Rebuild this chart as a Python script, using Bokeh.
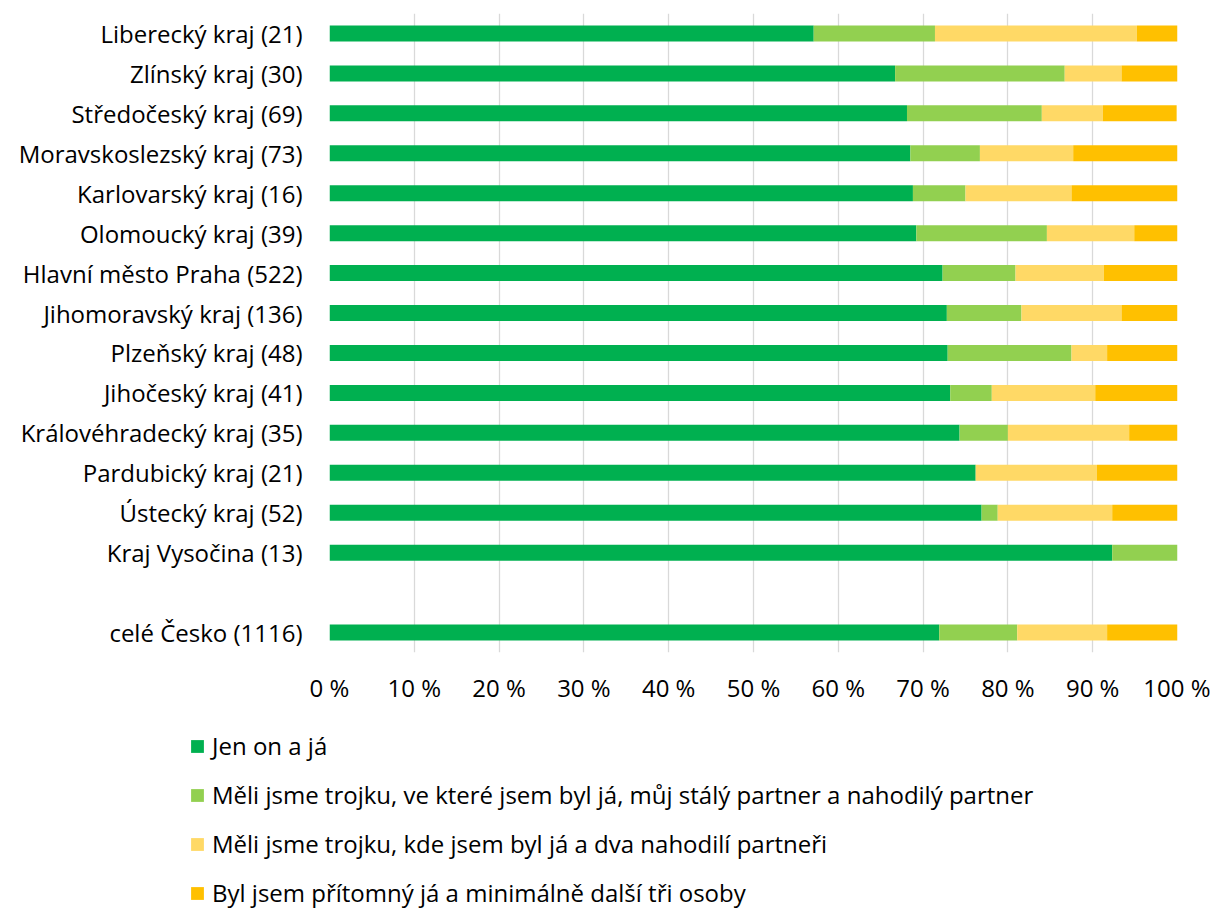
from bokeh.plotting import figure
from bokeh.models import (ColumnDataSource, FactorRange, Range1d, FixedTicker,
                          Legend, LegendItem)
from bokeh.layouts import column
from bokeh.embed import file_html
from bokeh.resources import INLINE

# ---- data (top to bottom as in the chart) ----
labels = ["Liberecký kraj (21)", "Zlínský kraj (30)", "Středočeský kraj (69)",
          "Moravskoslezský kraj (73)", "Karlovarský kraj (16)", "Olomoucký kraj (39)",
          "Hlavní město Praha (522)", "Jihomoravský kraj (136)", "Plzeňský kraj (48)",
          "Jihočeský kraj (41)", "Královéhradecký kraj (35)", "Pardubický kraj (21)",
          "Ústecký kraj (52)", "Kraj Vysočina (13)", "celé Česko (1116)"]
jen_on_a_ja = [57.1, 66.7, 68.1, 68.5, 68.8, 69.2, 72.3, 72.8, 72.9, 73.2, 74.3, 76.2, 76.9, 92.3, 71.9]
trojka_staly = [14.3, 20.0, 15.9, 8.2, 6.2, 15.4, 8.6, 8.8, 14.6, 4.9, 5.7, 0.0, 1.9, 7.7, 9.2]
trojka_dva = [23.8, 6.7, 7.2, 11.0, 12.5, 10.3, 10.4, 11.8, 4.2, 12.2, 14.3, 14.3, 13.5, 0.0, 10.6]
tri_osoby = [4.8, 6.7, 8.7, 12.3, 12.5, 5.1, 8.7, 6.6, 8.3, 9.8, 5.7, 9.5, 7.7, 0.0, 8.3]
series_names = ["Jen on a já",
                "Měli jsme trojku, ve které jsem byl já, můj stálý partner a nahodilý partner",
                "Měli jsme trojku, kde jsem byl já a dva nahodilí partneři",
                "Byl jsem přítomný já a minimálně další tři osoby"]
colors = ["#00B050", "#92D050", "#FFD966", "#FFC000"]
tick_values = list(range(0, 101, 10))
tick_labels = {v: f"{v} %" for v in tick_values}

FONT = "Open Sans"
FS = "24px"

keys = ["s0", "s1", "s2", "s3"]
source = ColumnDataSource(dict(cat=labels, s0=jen_on_a_ja, s1=trojka_staly,
                               s2=trojka_dva, s3=tri_osoby))

blank = " "
factors = list(reversed(labels[:-1] + [blank] + labels[-1:]))

W = 1210
H1 = 712
H2 = 197
p = figure(width=W, height=H1, y_range=FactorRange(factors=factors),
           x_range=Range1d(0, 100), output_backend="svg", toolbar_location=None,
           min_border_left=329, min_border_right=W - 1177, min_border_top=13,
           min_border_bottom=H1 - 652)
p.frame_align = False
renderers = p.hbar_stack(keys, y="cat", height=0.4, color=colors, line_color=None,
                         source=source)

p.outline_line_color = None
p.ygrid.grid_line_color = None
p.xgrid.grid_line_color = "#D9D9D9"
p.xgrid.grid_line_width = 1.3
p.xaxis.ticker = FixedTicker(ticks=tick_values)
p.xaxis.major_label_overrides = tick_labels
for ax in (p.xaxis, p.yaxis):
    ax.axis_line_color = None
    ax.major_tick_line_color = None
    ax.minor_tick_line_color = None
    ax.major_tick_out = 0
    ax.major_tick_in = 0
    ax.major_label_text_font = FONT
    ax.major_label_text_font_size = FS
    ax.major_label_text_color = "#000000"
p.xaxis.major_label_standoff = 18
p.yaxis.major_label_standoff = 27

# ---- legend area (separate, frame spanning the whole width) ----
p2 = figure(width=W, height=H2, x_range=Range1d(0, 1), y_range=Range1d(0, 1),
            x_axis_type=None, y_axis_type=None, output_backend="svg",
            toolbar_location=None, min_border=0)
p2.frame_align = False
p2.outline_line_color = None
p2.xgrid.visible = False
p2.ygrid.visible = False
p2.renderers.extend(renderers)
items = [LegendItem(label=name, renderers=[r]) for name, r in zip(series_names, renderers)]
legend = Legend(items=items, location=(189, 0), orientation="vertical",
                glyph_width=16, glyph_height=16, label_standoff=7, spacing=16,
                label_height=33, padding=0, margin=0,
                label_text_font=FONT, label_text_font_size=FS,
                label_text_color="#000000", border_line_color=None,
                background_fill_alpha=0)
p2.add_layout(legend, "center")

layout = column(p, p2, spacing=0)
open("out.html", "w").write(file_html(layout, INLINE))
